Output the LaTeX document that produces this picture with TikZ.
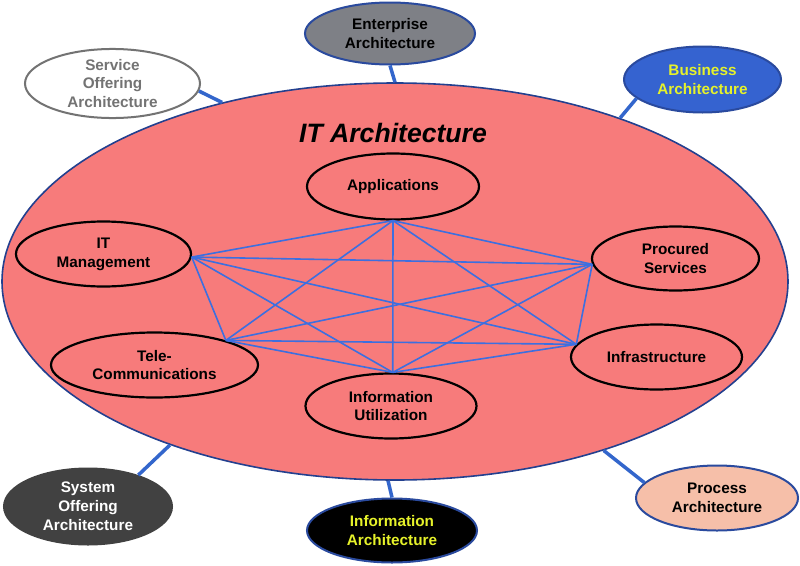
\documentclass[tikz,border=0pt]{standalone}
\usepackage{fontspec}
\setmainfont{Liberation Sans}
\usetikzlibrary{shapes.geometric}
\definecolor{bigred}{HTML}{F77B7B}
\definecolor{bigedge}{HTML}{23408F}
\definecolor{graphblue}{HTML}{3C6FE0}
\definecolor{connblue}{HTML}{3366CC}
\definecolor{svcgrey}{HTML}{737373}
\definecolor{entfill}{HTML}{7E8086}
\definecolor{busfill}{HTML}{3563D0}
\definecolor{yellowtxt}{HTML}{E6F22A}
\definecolor{sysfill}{HTML}{414141}
\definecolor{procfill}{HTML}{F6BFA9}
\definecolor{outedge}{HTML}{2A4A9E}
\tikzset{
  lbl/.style={font=\fontsize{15.3}{18.8}\selectfont\bfseries, align=center},
  oval/.style={ellipse, inner sep=0pt, lbl},
  inner/.style={oval, draw=black, line width=2.2pt, fill=bigred},
  outer/.style={oval, line width=2pt},
  graphline/.style={draw=graphblue, line width=1.6pt},
  conn/.style={draw=connblue, line width=3.5pt},
}
\begin{document}
\begin{tikzpicture}[x=1pt,y=-1pt]
\useasboundingbox (0,0) rectangle (800,565);
\fill[white] (0,0) rectangle (800,565);
% big ellipse
\node[ellipse, inner sep=0pt, minimum width=786pt, minimum height=397pt,
      fill=bigred, draw=bigedge, line width=1.6pt] (big) at (395,281.5) {};
\node[font=\fontsize{26.6}{30}\selectfont\bfseries\itshape] (title) at (393,133) {IT Architecture};
% outer nodes
\node[outer, minimum width=175pt, minimum height=65pt, fill=white, draw=svcgrey, text=svcgrey]
  (svc) at (112.5,83.5) {Service\\Offering\\Architecture};
\node[outer, minimum width=170pt, minimum height=62pt, fill=entfill, draw=outedge, text=black]
  (ent) at (390,33.5) {Enterprise\\Architecture};
\node[outer, minimum width=157pt, minimum height=66pt, fill=busfill, draw=outedge, text=yellowtxt]
  (bus) at (702.5,79.5) {Business\\Architecture};
\node[outer, minimum width=168pt, minimum height=76pt, fill=sysfill, draw=sysfill, text=white]
  (sys) at (88,506.5) {System\\Offering\\Architecture};
\node[outer, minimum width=170pt, minimum height=64pt, fill=black, draw=outedge, text=yellowtxt]
  (infa) at (392,530.5) {Information\\Architecture};
\node[outer, minimum width=162pt, minimum height=65pt, fill=procfill, draw=outedge, text=black]
  (proc) at (717,498) {Process\\Architecture};
% connectors
\draw[conn] (svc.-5) -- (big.134.1);
\draw[conn] (ent.south) -- (big.90.6);
\draw[conn] (bus.196) -- (big.36.2);
\draw[conn] (sys.32.6) -- (big.216.3);
\draw[conn] (infa.north) -- (big.268.6);
\draw[conn] (proc.168) -- (big.321);
% inner nodes
\node[inner, minimum width=172pt, minimum height=66pt] (app) at (393,186.5) {Applications};
\node[inner, minimum width=175pt, minimum height=65pt] (itm) at (103.5,254) {IT\\Management};
\node[inner, minimum width=207pt, minimum height=65pt] (tel) at (154.5,365) {Tele-\\Communications};
\node[inner, minimum width=167pt, minimum height=64pt] (pro) at (675.5,258.5) {Procured\\Services};
\node[inner, minimum width=171pt, minimum height=65pt] (inf) at (656.5,357) {Infrastructure};
\node[inner, minimum width=171pt, minimum height=65pt] (iu) at (391,406) {Information\\Utilization};
% vertices
\coordinate (vA) at (app.south);
\coordinate (vI) at (itm.-2);
\coordinate (vT) at (tel.19.4);
\coordinate (vP) at (pro.184);
\coordinate (vF) at (inf.171.2);
\coordinate (vU) at (iu.87);
\foreach \a/\b in {vA/vI,vA/vT,vA/vP,vA/vF,vA/vU,vI/vT,vI/vP,vI/vF,vI/vU,vT/vP,vT/vF,vT/vU,vP/vF,vP/vU,vF/vU}
  \draw[graphline] (\a) -- (\b);
\end{tikzpicture}
\end{document}
